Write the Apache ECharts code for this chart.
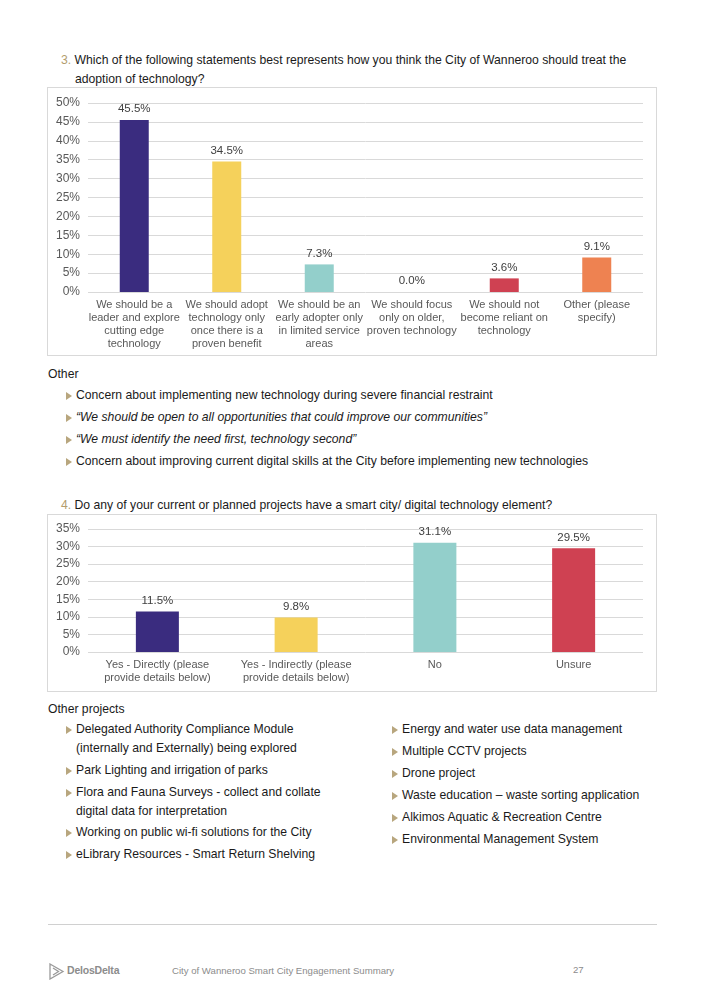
<!DOCTYPE html>
<html>
<head>
<meta charset="utf-8">
<script src="https://cdn.jsdelivr.net/npm/echarts@6/dist/echarts.min.js"></script>
<style>
  html, body { margin:0; padding:0; background:#fff; }
  body { width:705px; height:1005px; position:relative; overflow:hidden;
         font-family: "Liberation Sans", Arial, sans-serif; color:#1a1a1a; }
  .abs { position:absolute; }
  .q { font-size:12.2px; line-height:19px; white-space:nowrap; }
  .num { color:#b39d6e; }
  .txt { font-size:12.2px; line-height:16px; white-space:nowrap; }
  .bul { position:absolute; font-size:12.2px; line-height:19px; white-space:nowrap; }
  .bul:before { content:""; position:absolute; left:-10px; top:5.5px; width:0; height:0;
      border-top:4px solid transparent; border-bottom:4px solid transparent; border-left:6px solid #b8a67e; }
  .frame { position:absolute; border:1px solid #d9d9d9; box-sizing:border-box; }
  .foot { font-size:9.6px; color:#8c8c8c; }
</style>
</head>
<body>
<div class="abs q" style="left:61px; top:51px;"><span class="num">3.</span> Which of the following statements best represents how you think the City of Wanneroo should treat the<br><span style="padding-left:14px">adoption of technology?</span></div>

<div id="c1" class="frame" style="left:47px; top:87px; width:610px; height:269px;"></div>

<div class="abs txt" style="left:48px; top:366px;">Other</div>
<div class="bul" style="left:76px; top:386px;">Concern about implementing new technology during severe financial restraint</div>
<div class="bul" style="left:76px; top:408px; font-style:italic;">“We should be open to all opportunities that could improve our communities”</div>
<div class="bul" style="left:76px; top:430px; font-style:italic;">“We must identify the need first, technology second”</div>
<div class="bul" style="left:76px; top:452px;">Concern about improving current digital skills at the City before implementing new technologies</div>

<div class="abs q" style="left:61px; top:496px;"><span class="num">4.</span> Do any of your current or planned projects have a smart city/ digital technology element?</div>

<div id="c2" class="frame" style="left:47px; top:514px; width:610px; height:178px;"></div>

<div class="abs txt" style="left:48px; top:701px;">Other projects</div>
<div class="bul" style="left:76px; top:720px;">Delegated Authority Compliance Module<br>(internally and Externally) being explored</div>
<div class="bul" style="left:76px; top:761px;">Park Lighting and irrigation of parks</div>
<div class="bul" style="left:76px; top:783px;">Flora and Fauna Surveys - collect and collate<br>digital data for interpretation</div>
<div class="bul" style="left:76px; top:823px;">Working on public wi-fi solutions for the City</div>
<div class="bul" style="left:76px; top:845px;">eLibrary Resources - Smart Return Shelving</div>

<div class="bul" style="left:402px; top:720px;">Energy and water use data management</div>
<div class="bul" style="left:402px; top:742px;">Multiple CCTV projects</div>
<div class="bul" style="left:402px; top:764px;">Drone project</div>
<div class="bul" style="left:402px; top:786px;">Waste education – waste sorting application</div>
<div class="bul" style="left:402px; top:808px;">Alkimos Aquatic &amp; Recreation Centre</div>
<div class="bul" style="left:402px; top:830px;">Environmental Management System</div>

<div class="abs" style="left:48px; top:924px; width:609px; height:1px; background:#d0d0d0;"></div>
<div class="abs" style="left:49px; top:963px;">
  <svg width="16" height="17" viewBox="0 0 16 17"><path d="M1 1 L14 8.5 L1 16 Z M4 5 L9.5 8.5 L4 12" fill="none" stroke="#9a9a9a" stroke-width="1.3"/></svg>
</div>
<div class="abs" style="left:67px; top:964px; font-size:10.5px; font-weight:bold; color:#8c8c8c; letter-spacing:-0.2px;">DelosDelta</div>
<div class="abs foot" style="left:172px; top:965px;">City of Wanneroo Smart City Engagement Summary</div>
<div class="abs foot" style="left:573px; top:964px;">27</div>

<script>
const q3Categories = [
  "We should be a\nleader and explore\ncutting edge\ntechnology",
  "We should adopt\ntechnology only\nonce there is a\nproven benefit",
  "We should be an\nearly adopter only\nin limited service\nareas",
  "We should focus\nonly on older,\nproven technology",
  "We should not\nbecome reliant on\ntechnology",
  "Other (please\nspecify)"
];
const q3Values = [45.5, 34.5, 7.3, 0.0, 3.6, 9.1];
const q3Ticks = { min: 0, max: 50, interval: 5 };

const q4Categories = [
  "Yes - Directly (please\nprovide details below)",
  "Yes - Indirectly (please\nprovide details below)",
  "No",
  "Unsure"
];
const q4Values = [11.5, 9.8, 31.1, 29.5];
const q4Ticks = { min: 0, max: 35, interval: 5 };

const q3Colors = ["#3a2c7f", "#f5d15b", "#93cfcb", "#b0b0b0", "#cf4152", "#ee8251"];
const q4Colors = ["#3a2c7f", "#f5d15b", "#93cfcb", "#cf4152"];

function makeOption(cats, vals, colors, ticks, grid, barWidth) {
  return {
    animation: false,
    grid: grid,
    xAxis: {
      type: 'category',
      data: cats,
      axisLine: { show: false },
      axisTick: { show: false },
      axisLabel: { color: '#595959', fontSize: 11, lineHeight: 13, margin: 6, interval: 0,
                   fontFamily: 'Liberation Sans, Arial, sans-serif' }
    },
    yAxis: {
      type: 'value',
      min: ticks.min, max: ticks.max, interval: ticks.interval,
      axisLine: { show: false },
      axisTick: { show: false },
      splitLine: { lineStyle: { color: '#d9d9d9', width: 1 } },
      axisLabel: { color: '#595959', fontSize: 12, margin: 8, formatter: '{value}%',
                   fontFamily: 'Liberation Sans, Arial, sans-serif' }
    },
    series: [{
      type: 'bar',
      barWidth: barWidth,
      data: vals.map((v, i) => ({ value: v, itemStyle: { color: colors[i] } })),
      label: {
        show: true, position: 'top', distance: 5,
        color: '#404040', fontSize: 11.5, fontFamily: 'Liberation Sans, Arial, sans-serif',
        formatter: p => p.value.toFixed(1) + '%'
      }
    }]
  };
}

const c1 = echarts.init(document.getElementById('c1'), null, { renderer: 'canvas' });
c1.setOption(makeOption(q3Categories, q3Values, q3Colors, q3Ticks,
  { left: 40, right: 13, top: 15, bottom: 63 }, 29));

const c2 = echarts.init(document.getElementById('c2'), null, { renderer: 'canvas' });
c2.setOption(makeOption(q4Categories, q4Values, q4Colors, q4Ticks,
  { left: 40, right: 13, top: 14, bottom: 39 }, 43));
</script>
</body>
</html>
